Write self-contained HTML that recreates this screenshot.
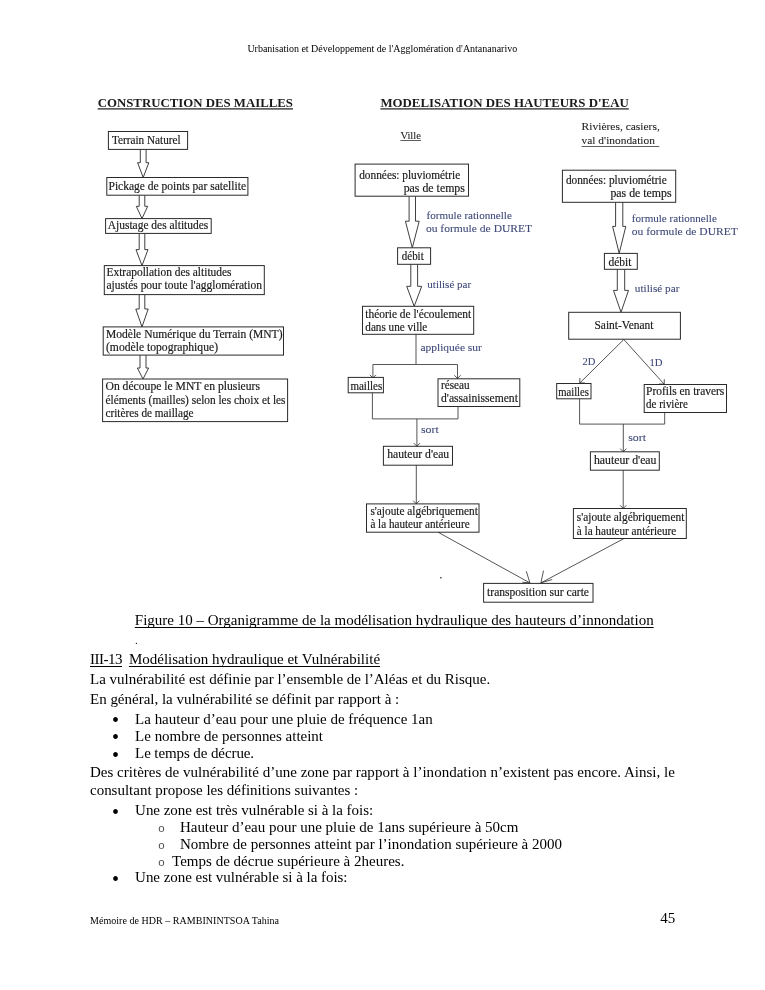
<!DOCTYPE html>
<html lang="fr">
<head>
<meta charset="utf-8">
<title>Urbanisation et Développement de l'Agglomération d'Antananarivo</title>
<style>
html,body{margin:0;padding:0;background:#fff}
body{width:765px;height:990px;position:relative;overflow:hidden;font-family:"Liberation Serif","DejaVu Serif",serif;color:#000}
.t{position:absolute;white-space:nowrap;line-height:1;margin:0}
.u{text-decoration:underline;text-decoration-thickness:0.8px;text-underline-offset:1.6px;text-decoration-skip-ink:none}
.m{font-family:"Liberation Mono","DejaVu Sans Mono",monospace;color:#505050}
#page{position:absolute;left:0;top:0;width:765px;height:990px;will-change:opacity}
svg{position:absolute;left:0;top:0}
svg text{font-family:"Liberation Serif","DejaVu Serif",serif}
</style>
</head>
<body>
<div id="page">
<svg width="765" height="610" viewBox="0 0 765 610">
<g fill="#fff" stroke="#2a2a2a" stroke-width="0.9" stroke-linejoin="miter">
<path d="M140.3 149.4V162.7H137.6L143.2 177.5L148.8 162.7H146.1V149.4"/>
<path d="M139.2 195.2V206.3H136.3L142 218.6L147.7 206.3H144.8V195.2"/>
<path d="M139.2 233.4V249.6H136L142 265.6L148 249.6H144.8V233.4"/>
<path d="M139.2 294.6V309H135.8L142 326.9L148.2 309H144.8V294.6"/>
<path d="M140 355.1V368H137.4L143 379L148.6 368H146V355.1"/>
<path d="M409.1 196.2V221.2H405.4L412.3 247.8L419.2 221.2H415.5V196.2"/>
<path d="M410.8 264.3V286.3H406.7L414.2 306.3L421.7 286.3H417.6V264.3"/>
<path d="M615.6 202.3V226.4H612.6L619.2 253.4L625.8 226.4H622.8V202.3"/>
<path d="M617.3 269.3V290.4H613.5L621 312.3L628.5 290.4H624.7V269.3"/>
</g>
<g fill="#fff" stroke="#2a2a2a" stroke-width="1">
<rect x="108.4" y="131.5" width="79.2" height="17.9"/>
<rect x="106.8" y="177.5" width="141.1" height="17.7"/>
<rect x="105.6" y="218.6" width="105.6" height="14.8"/>
<rect x="104.3" y="265.6" width="160" height="29"/>
<rect x="103.2" y="326.9" width="180.3" height="28.2"/>
<rect x="102.6" y="379" width="185" height="42.6"/>
<rect x="355.1" y="164.1" width="113.4" height="32.1"/>
<rect x="397.6" y="247.8" width="33" height="16.5"/>
<rect x="362.5" y="306.3" width="111.2" height="28"/>
<rect x="348.2" y="377.4" width="35.2" height="15.4"/>
<rect x="438" y="378.8" width="81.8" height="27.7"/>
<rect x="383.4" y="446.3" width="69.1" height="18.9"/>
<rect x="366.5" y="503.9" width="112.5" height="28.3"/>
<rect x="562.4" y="170.2" width="113.3" height="32.1"/>
<rect x="604.4" y="253.4" width="32.9" height="15.9"/>
<rect x="568.7" y="312.3" width="111.7" height="26.9"/>
<rect x="556.7" y="383.5" width="34.3" height="15.3"/>
<rect x="644.2" y="384.5" width="82.3" height="28"/>
<rect x="590.4" y="451.8" width="68.9" height="18.4"/>
<rect x="573.4" y="508.5" width="112.9" height="30"/>
<rect x="483.6" y="583.4" width="109.4" height="18.8"/>
</g>
<g fill="none" stroke="#2a2a2a" stroke-width="0.8">
<polyline points="416,334.3 416,364.5"/>
<polyline points="372.9,378 372.9,364.5 457.5,364.5 457.5,378.5"/>
<polyline points="372.4,392.8 372.4,418.9 458,418.9 458,406.5"/>
<polyline points="416.9,418.9 416.9,446.3"/>
<polyline points="416.3,465.2 416.3,503.9"/>
<polyline points="438,532.2 529.9,582.9"/>
<polyline points="624,538.5 540.9,582.9"/>
<polyline points="623.8,339.5 579.8,383"/>
<polyline points="623.8,339.5 664.2,384.2"/>
<polyline points="579.6,398.8 579.6,424.1 664.7,424.1 664.7,412.5"/>
<polyline points="623.3,424.1 623.3,451.8"/>
<polyline points="623.2,470.2 623.2,508.5"/>
<polyline points="369.8,374.8 372.9,378 376,374.8"/>
<polyline points="454.4,375.3 457.5,378.5 460.6,375.3"/>
<polyline points="413.8,443.1 416.9,446.3 420,443.1"/>
<polyline points="413.2,500.7 416.3,503.9 419.4,500.7"/>
<polyline points="579.9,378 579.8,383 584.8,382.9"/>
<polyline points="659.2,383.9 664.2,384.2 664.3,379.2"/>
<polyline points="620.2,448.6 623.3,451.8 626.4,448.6"/>
<polyline points="620.1,505.3 623.2,508.5 626.3,505.3"/>
<polyline points="526.3,571.2 529.9,582.9 522.4,582.2"/>
<polyline points="543.5,570.7 540.9,582.9 552.2,579.5"/>
</g>
<g fill="#1a1a1a">
<rect x="97.7" y="108.3" width="195.3" height="1.2"/>
<rect x="380.4" y="108.3" width="248.4" height="1.2"/>
<rect x="400.4" y="140" width="20.6" height="0.7"/>
<rect x="581.6" y="146.2" width="77.7" height="0.7"/>
<circle cx="440.9" cy="577.8" r="0.8"/>
</g>
<text x="97.7" y="107.2" font-size="13.4" fill="#1a1a1a" font-weight="bold" textLength="195.3" lengthAdjust="spacingAndGlyphs">CONSTRUCTION DES MAILLES</text>
<text x="380.4" y="107.2" font-size="13.4" fill="#1a1a1a" font-weight="bold" textLength="248.4" lengthAdjust="spacingAndGlyphs">MODELISATION DES HAUTEURS D'EAU</text>
<text x="112" y="144" font-size="11.9" fill="#1a1a1a" stroke="#1a1a1a" stroke-width="0.18" textLength="68.6" lengthAdjust="spacingAndGlyphs">Terrain Naturel</text>
<text x="108.5" y="190" font-size="11.9" fill="#1a1a1a" stroke="#1a1a1a" stroke-width="0.18" textLength="137.5" lengthAdjust="spacingAndGlyphs">Pickage de points par satellite</text>
<text x="107.8" y="229" font-size="11.9" fill="#1a1a1a" stroke="#1a1a1a" stroke-width="0.18" textLength="100.5" lengthAdjust="spacingAndGlyphs">Ajustage des altitudes</text>
<text x="106.5" y="276" font-size="11.9" fill="#1a1a1a" stroke="#1a1a1a" stroke-width="0.18" textLength="125" lengthAdjust="spacingAndGlyphs">Extrapollation des altitudes</text>
<text x="106.5" y="289.4" font-size="11.9" fill="#1a1a1a" stroke="#1a1a1a" stroke-width="0.18" textLength="155.5" lengthAdjust="spacingAndGlyphs">ajustés pour toute l'agglomération</text>
<text x="106" y="338" font-size="11.9" fill="#1a1a1a" stroke="#1a1a1a" stroke-width="0.18" textLength="176.5" lengthAdjust="spacingAndGlyphs">Modèle Numérique du Terrain (MNT)</text>
<text x="106" y="351" font-size="11.9" fill="#1a1a1a" stroke="#1a1a1a" stroke-width="0.18" textLength="112" lengthAdjust="spacingAndGlyphs">(modèle topographique)</text>
<text x="105.5" y="390" font-size="11.9" fill="#1a1a1a" stroke="#1a1a1a" stroke-width="0.18" textLength="154.5" lengthAdjust="spacingAndGlyphs">On découpe le MNT en plusieurs</text>
<text x="105.5" y="403.5" font-size="11.9" fill="#1a1a1a" stroke="#1a1a1a" stroke-width="0.18" textLength="180" lengthAdjust="spacingAndGlyphs">éléments (mailles) selon les choix et les</text>
<text x="105.5" y="416.5" font-size="11.9" fill="#1a1a1a" stroke="#1a1a1a" stroke-width="0.18" textLength="88" lengthAdjust="spacingAndGlyphs">critères de maillage</text>
<text x="400.4" y="138.9" font-size="11.1" fill="#1a1a1a" stroke="#1a1a1a" stroke-width="0.08" textLength="20.6" lengthAdjust="spacingAndGlyphs">Ville</text>
<text x="359.2" y="179.2" font-size="11.9" fill="#1a1a1a" stroke="#1a1a1a" stroke-width="0.18" textLength="101" lengthAdjust="spacingAndGlyphs">données: pluviométrie</text>
<text x="403.7" y="192.4" font-size="11.9" fill="#1a1a1a" stroke="#1a1a1a" stroke-width="0.18" textLength="61.2" lengthAdjust="spacingAndGlyphs">pas de temps</text>
<text x="426.5" y="219" font-size="11.1" fill="#3b4676" stroke="#3b4676" stroke-width="0.08" textLength="85.3" lengthAdjust="spacingAndGlyphs">formule rationnelle</text>
<text x="425.9" y="232.2" font-size="11.1" fill="#3b4676" stroke="#3b4676" stroke-width="0.08" textLength="106.3" lengthAdjust="spacingAndGlyphs">ou formule de DURET</text>
<text x="401.8" y="259.6" font-size="11.9" fill="#1a1a1a" stroke="#1a1a1a" stroke-width="0.18" textLength="21.9" lengthAdjust="spacingAndGlyphs">débit</text>
<text x="427.3" y="288.2" font-size="11.1" fill="#3b4676" stroke="#3b4676" stroke-width="0.08" textLength="43.9" lengthAdjust="spacingAndGlyphs">utilisé par</text>
<text x="365.3" y="317.7" font-size="11.9" fill="#1a1a1a" stroke="#1a1a1a" stroke-width="0.18" textLength="105.9" lengthAdjust="spacingAndGlyphs">théorie de l'écoulement</text>
<text x="365.3" y="330.6" font-size="11.9" fill="#1a1a1a" stroke="#1a1a1a" stroke-width="0.18" textLength="62" lengthAdjust="spacingAndGlyphs">dans une ville</text>
<text x="420.4" y="350.8" font-size="11.1" fill="#3b4676" stroke="#3b4676" stroke-width="0.08" textLength="61.5" lengthAdjust="spacingAndGlyphs">appliquée sur</text>
<text x="350.4" y="389.6" font-size="11.9" fill="#1a1a1a" stroke="#1a1a1a" stroke-width="0.18" textLength="31.8" lengthAdjust="spacingAndGlyphs">mailles</text>
<text x="441" y="389.3" font-size="11.9" fill="#1a1a1a" stroke="#1a1a1a" stroke-width="0.18" textLength="28.6" lengthAdjust="spacingAndGlyphs">réseau</text>
<text x="441" y="402" font-size="11.9" fill="#1a1a1a" stroke="#1a1a1a" stroke-width="0.18" textLength="76.9" lengthAdjust="spacingAndGlyphs">d'assainissement</text>
<text x="421" y="433.1" font-size="11.1" fill="#3b4676" stroke="#3b4676" stroke-width="0.08" textLength="17.8" lengthAdjust="spacingAndGlyphs">sort</text>
<text x="387.2" y="458.4" font-size="11.9" fill="#1a1a1a" stroke="#1a1a1a" stroke-width="0.18" textLength="62" lengthAdjust="spacingAndGlyphs">hauteur d'eau</text>
<text x="370.4" y="515.3" font-size="11.9" fill="#1a1a1a" stroke="#1a1a1a" stroke-width="0.18" textLength="107.4" lengthAdjust="spacingAndGlyphs">s'ajoute algébriquement</text>
<text x="370.4" y="528.3" font-size="11.9" fill="#1a1a1a" stroke="#1a1a1a" stroke-width="0.18" textLength="99.2" lengthAdjust="spacingAndGlyphs">à la hauteur antérieure</text>
<text x="581.6" y="130" font-size="11.1" fill="#1a1a1a" stroke="#1a1a1a" stroke-width="0.08" textLength="78.2" lengthAdjust="spacingAndGlyphs">Rivières, casiers,</text>
<text x="581.6" y="143.5" font-size="11.1" fill="#1a1a1a" stroke="#1a1a1a" stroke-width="0.08" textLength="73.3" lengthAdjust="spacingAndGlyphs">val d'inondation</text>
<text x="565.9" y="184" font-size="11.9" fill="#1a1a1a" stroke="#1a1a1a" stroke-width="0.18" textLength="100.8" lengthAdjust="spacingAndGlyphs">données: pluviométrie</text>
<text x="610.4" y="197.4" font-size="11.9" fill="#1a1a1a" stroke="#1a1a1a" stroke-width="0.18" textLength="61.2" lengthAdjust="spacingAndGlyphs">pas de temps</text>
<text x="631.8" y="222.3" font-size="11.1" fill="#3b4676" stroke="#3b4676" stroke-width="0.08" textLength="85" lengthAdjust="spacingAndGlyphs">formule rationnelle</text>
<text x="631.8" y="235.3" font-size="11.1" fill="#3b4676" stroke="#3b4676" stroke-width="0.08" textLength="106" lengthAdjust="spacingAndGlyphs">ou formule de DURET</text>
<text x="608.5" y="265.7" font-size="11.9" fill="#1a1a1a" stroke="#1a1a1a" stroke-width="0.18" textLength="23" lengthAdjust="spacingAndGlyphs">débit</text>
<text x="634.8" y="291.9" font-size="11.1" fill="#3b4676" stroke="#3b4676" stroke-width="0.08" textLength="44.6" lengthAdjust="spacingAndGlyphs">utilisé par</text>
<text x="594.5" y="329.2" font-size="11.9" fill="#1a1a1a" stroke="#1a1a1a" stroke-width="0.18" textLength="59" lengthAdjust="spacingAndGlyphs">Saint-Venant</text>
<text x="582.4" y="365" font-size="11.1" fill="#3b4676" stroke="#3b4676" stroke-width="0.08" textLength="12.9" lengthAdjust="spacingAndGlyphs">2D</text>
<text x="649.4" y="366.4" font-size="11.1" fill="#3b4676" stroke="#3b4676" stroke-width="0.08" textLength="13.1" lengthAdjust="spacingAndGlyphs">1D</text>
<text x="558.2" y="395.7" font-size="11.9" fill="#1a1a1a" stroke="#1a1a1a" stroke-width="0.18" textLength="30.7" lengthAdjust="spacingAndGlyphs">mailles</text>
<text x="646.1" y="394.8" font-size="11.9" fill="#1a1a1a" stroke="#1a1a1a" stroke-width="0.18" textLength="78.2" lengthAdjust="spacingAndGlyphs">Profils en travers</text>
<text x="646.1" y="407.7" font-size="11.9" fill="#1a1a1a" stroke="#1a1a1a" stroke-width="0.18" textLength="41.7" lengthAdjust="spacingAndGlyphs">de rivière</text>
<text x="628.2" y="441.4" font-size="11.1" fill="#3b4676" stroke="#3b4676" stroke-width="0.08" textLength="17.9" lengthAdjust="spacingAndGlyphs">sort</text>
<text x="593.9" y="463.9" font-size="11.9" fill="#1a1a1a" stroke="#1a1a1a" stroke-width="0.18" textLength="62.6" lengthAdjust="spacingAndGlyphs">hauteur d'eau</text>
<text x="576.8" y="520.5" font-size="11.9" fill="#1a1a1a" stroke="#1a1a1a" stroke-width="0.18" textLength="107.5" lengthAdjust="spacingAndGlyphs">s'ajoute algébriquement</text>
<text x="576.8" y="534.5" font-size="11.9" fill="#1a1a1a" stroke="#1a1a1a" stroke-width="0.18" textLength="99.4" lengthAdjust="spacingAndGlyphs">à la hauteur antérieure</text>
<text x="487.1" y="596" font-size="11.9" fill="#1a1a1a" stroke="#1a1a1a" stroke-width="0.18" textLength="101.9" lengthAdjust="spacingAndGlyphs">transposition sur carte</text>
</svg>
<div class="t" id="p0" style="left:247.4px;top:44.4px;font-size:10px;letter-spacing:-0.011px">Urbanisation et Développement de l'Agglomération d'Antananarivo</div>
<div class="t u" id="p1" style="left:134.8px;top:612.5px;font-size:15px;letter-spacing:0.001px">Figure 10 – Organigramme de la modélisation hydraulique des hauteurs d’innondation</div>
<div class="t" id="p2" style="left:135px;top:635.4px;font-size:11px">.</div>
<div class="t u" id="p3" style="left:90px;top:652.2px;font-size:15px;letter-spacing:-0.497px">III-13</div>
<div class="t u" id="p4" style="left:128.9px;top:652.2px;font-size:15px;letter-spacing:0.008px">Modélisation hydraulique et Vulnérabilité</div>
<div class="t" id="p5" style="left:90px;top:672px;font-size:15px;letter-spacing:-0.014px">La vulnérabilité est définie par l’ensemble de l’Aléas et du Risque.</div>
<div class="t" id="p6" style="left:90px;top:692px;font-size:15px;letter-spacing:-0.012px">En général, la vulnérabilité se définit par rapport à :</div>
<div class="t" id="p7" style="left:112px;top:710.4px;font-size:20px">•</div>
<div class="t" id="p8" style="left:135.1px;top:711.8px;font-size:15px;letter-spacing:-0.013px">La hauteur d’eau pour une pluie de fréquence 1an</div>
<div class="t" id="p9" style="left:112px;top:727.2px;font-size:20px">•</div>
<div class="t" id="p10" style="left:135.1px;top:728.6px;font-size:15px;letter-spacing:-0.013px">Le nombre de personnes atteint</div>
<div class="t" id="p11" style="left:112px;top:745px;font-size:20px">•</div>
<div class="t" id="p12" style="left:135.1px;top:746.4px;font-size:15px;letter-spacing:-0.099px">Le temps de décrue.</div>
<div class="t" id="p13" style="left:90px;top:765.1px;font-size:15px;letter-spacing:0.009px">Des critères de vulnérabilité d’une zone par rapport à l’inondation n’existent pas encore. Ainsi, le</div>
<div class="t" id="p14" style="left:90px;top:783px;font-size:15px;letter-spacing:-0.011px">consultant propose les définitions suivantes :</div>
<div class="t" id="p15" style="left:112px;top:801.6px;font-size:20px">•</div>
<div class="t" id="p16" style="left:135.1px;top:803px;font-size:15px;letter-spacing:-0.026px">Une zone est très vulnérable si à la fois:</div>
<div class="t m" id="p17" style="left:157.9px;top:823.3px;font-size:11.5px">o</div>
<div class="t" id="p18" style="left:179.9px;top:820.3px;font-size:15px;letter-spacing:-0.002px">Hauteur d’eau pour une pluie de 1ans supérieure à 50cm</div>
<div class="t m" id="p19" style="left:157.9px;top:840.3px;font-size:11.5px">o</div>
<div class="t" id="p20" style="left:179.9px;top:837.3px;font-size:15px;letter-spacing:-0.006px">Nombre de personnes atteint par l’inondation supérieure à 2000</div>
<div class="t m" id="p21" style="left:157.9px;top:857px;font-size:11.5px">o</div>
<div class="t" id="p22" style="left:172.1px;top:853.8px;font-size:15px;letter-spacing:0.003px">Temps de décrue supérieure à 2heures.</div>
<div class="t" id="p23" style="left:112px;top:869.1px;font-size:20px">•</div>
<div class="t" id="p24" style="left:135.1px;top:870.1px;font-size:15px;letter-spacing:-0.035px">Une zone est vulnérable si à la fois:</div>
<div class="t" id="p25" style="left:90px;top:916.1px;font-size:10px;letter-spacing:0.036px">Mémoire de HDR – RAMBININTSOA Tahina</div>
<div class="t" id="p26" style="left:660.3px;top:911.1px;font-size:15px;letter-spacing:-0.150px">45</div>
</div>
</body>
</html>
